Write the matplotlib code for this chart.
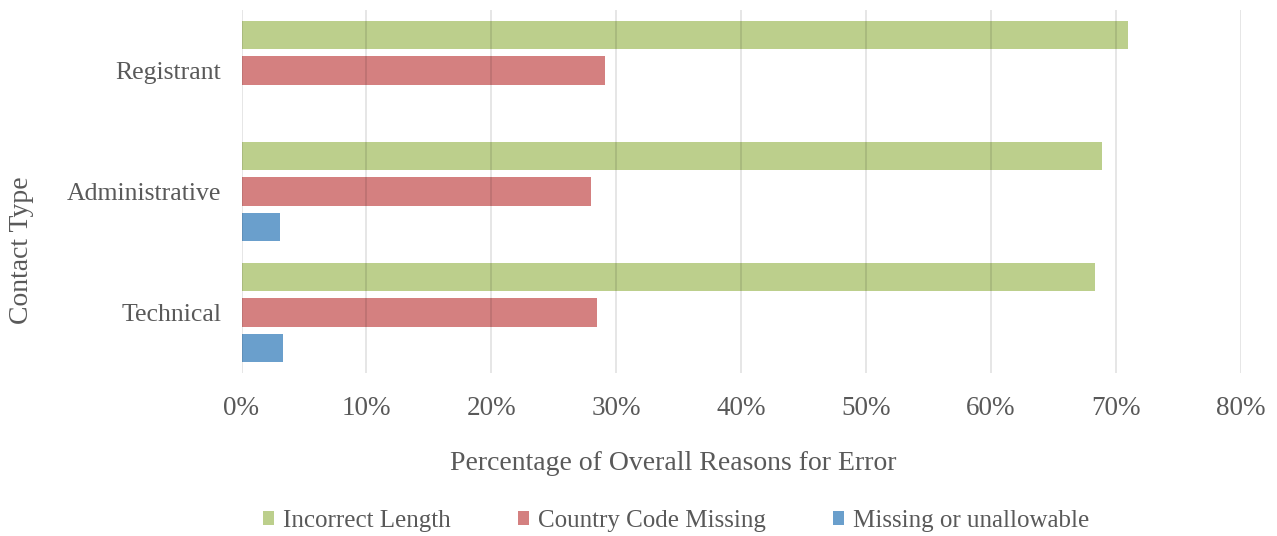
import numpy as np
import matplotlib
matplotlib.use('Agg')
import matplotlib.pyplot as plt
from matplotlib.ticker import PercentFormatter

# contact types and share of each error reason (percent)
contact_types = ['Registrant', 'Administrative', 'Technical']
incorrect_length = [71.0, 68.9, 68.3]
country_code_missing = [29.1, 28.0, 28.5]
missing_or_unallowable = [0.0, 3.1, 3.3]
series_names = ['Incorrect Length', 'Country Code Missing', 'Missing or unallowable']
x_ticks = [0, 10, 20, 30, 40, 50, 60, 70, 80]

colors = ['#bccf8c', '#d48080', '#6a9fcc']
text_color = '#595959'

plt.rcParams['font.family'] = ['Liberation Serif', 'DejaVu Serif']

fig = plt.figure(figsize=(12.77, 5.36), dpi=100)
ax = fig.add_axes([241.5 / 1277, 1 - 373 / 536, 999.2 / 1277, 363 / 536])

y = np.arange(len(contact_types))
step = 0.295
height = 0.232
all_series = [incorrect_length, country_code_missing, missing_or_unallowable]
for i, (vals, name, col) in enumerate(zip(all_series, series_names, colors)):
    ax.barh(y + (i - 1) * step, vals, height=height, color=col,
            linewidth=0, label=name, zorder=1)

ax.set_xlim(0, 80)
ax.set_ylim(len(contact_types) - 0.5, -0.5)
ax.set_xticks(x_ticks)
ax.xaxis.set_major_formatter(PercentFormatter(decimals=0))
ax.set_yticks(y)
ax.set_yticklabels(contact_types)
ax.tick_params(axis='both', length=0, colors=text_color)
ax.tick_params(axis='x', pad=16.5, labelsize=19.5)
ax.tick_params(axis='y', pad=14.5, labelsize=18.5)

# light grid drawn over the bars
ax.grid(axis='x', color='black', alpha=0.13, linewidth=1.1, zorder=3)
ax.set_axisbelow(False)
for s in ax.spines.values():
    s.set_visible(False)

fig.text(673 / 1277, 1 - 463 / 536, 'Percentage of Overall Reasons for Error',
         ha='center', va='center', fontsize=20, color=text_color)
fig.text(22 / 1277, 1 - 250 / 536, 'Contact Type', rotation=90,
         ha='center', va='center', fontsize=20, color=text_color)

leg = fig.legend(loc='center', bbox_to_anchor=(676 / 1277, 1 - 521 / 536), ncol=3,
                 frameon=False, fontsize=18, handlelength=0.45, handleheight=0.45,
                 handletextpad=0.35, columnspacing=2.7, labelcolor=text_color)

fig.savefig('out.png', dpi=100)
